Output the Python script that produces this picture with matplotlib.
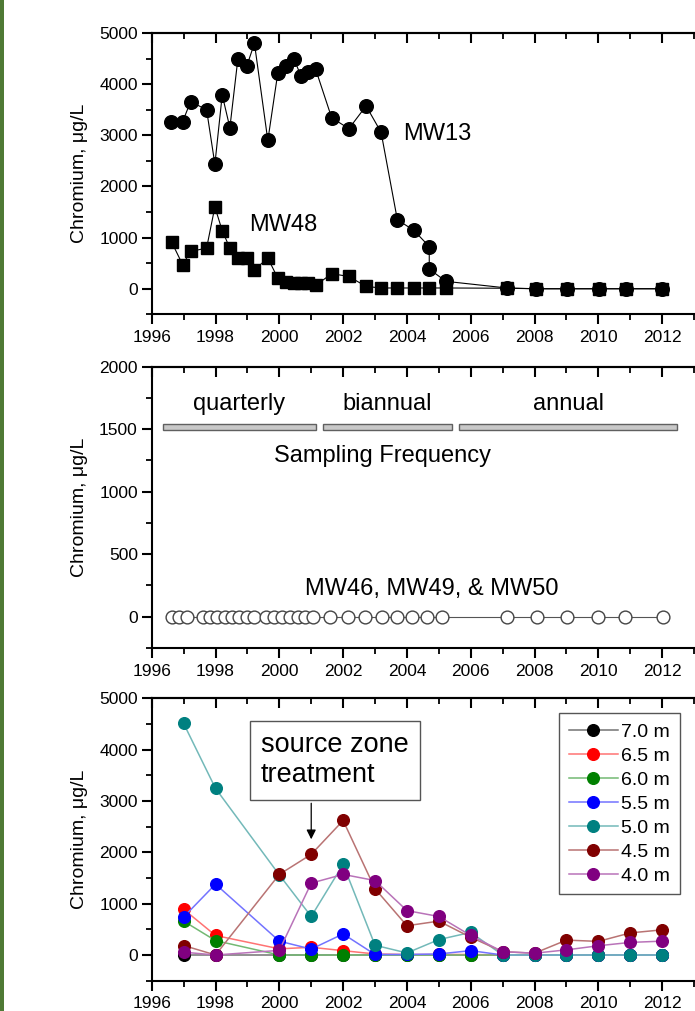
import matplotlib.pyplot as plt
import matplotlib.colors as mcolors
from matplotlib.patches import Rectangle
from matplotlib.ticker import MultipleLocator, FixedLocator

plt.rcParams['font.family'] = ['Liberation Sans', 'DejaVu Sans']

# --- top panel: MW13 and MW48 ---
mw13_year = [1996.6, 1996.97, 1997.22, 1997.72, 1997.98, 1998.21, 1998.45, 1998.70, 1998.98, 1999.22,
             1999.64, 1999.95, 2000.21, 2000.46, 2000.68, 2000.89, 2001.14, 2001.64, 2002.18, 2002.72,
             2003.19, 2003.70, 2004.22, 2004.70, 2004.70, 2005.22, 2007.13, 2008.05, 2009.01, 2010.03,
             2010.86, 2012.01]
mw13_cr = [3270, 3270, 3660, 3500, 2435, 3790, 3150, 4490, 4355, 4800,
           2900, 4210, 4355, 4490, 4160, 4245, 4290, 3345, 3130, 3575,
           3060, 1350, 1140, 825, 385, 145, 15, 0, 0, 0,
           0, 0]

mw48_year = [1996.63, 1996.97, 1997.22, 1997.72, 1997.98, 1998.21, 1998.45, 1998.70, 1998.98, 1999.22,
             1999.64, 1999.95, 2000.21, 2000.46, 2000.68, 2000.89, 2001.14, 2001.64, 2002.18, 2002.72,
             2003.19, 2003.70, 2004.22, 2004.70, 2005.22, 2007.13, 2008.05, 2009.01, 2010.03, 2010.86,
             2012.01]
mw48_cr = [905, 470, 730, 795, 1600, 1135, 795, 600, 600, 370,
           600, 210, 130, 110, 110, 120, 65, 295, 240, 45,
           15, 15, 15, 15, 15, 10, 0, 0, 0, 0,
           0]

# --- middle panel: MW46, MW49, MW50 (all non-detect) ---
mid_year = [1996.63, 1996.87, 1997.12, 1997.60, 1997.83, 1998.06, 1998.29, 1998.52, 1998.75, 1998.98,
            1999.21, 1999.58, 1999.83, 2000.07, 2000.32, 2000.58, 2000.81, 2001.07, 2001.6, 2002.16,
            2002.68, 2003.21, 2003.68, 2004.15, 2004.62, 2005.09, 2007.13, 2008.07, 2009.01, 2010.0,
            2010.84, 2012.02]
mid_cr = [0, 0, 0, 0, 0, 0, 0, 0, 0, 0,
          0, 0, 0, 0, 0, 0, 0, 0, 0, 0,
          0, 0, 0, 0, 0, 0, 0, 0, 0, 0,
          0, 0]

freq_labels = ["quarterly", "biannual", "annual"]
freq_start = [1996.36, 2001.36, 2005.64]
freq_end = [2001.14, 2005.40, 2012.46]

# --- bottom panel: depth profile ---
depth_year = [1997, 1998, 2000, 2001, 2002, 2003, 2004, 2005, 2006, 2007, 2008, 2009, 2010, 2011, 2012]
depth_labels = ["7.0 m", "6.5 m", "6.0 m", "5.5 m", "5.0 m", "4.5 m", "4.0 m"]
depth_colors = ["#000000", "#ff0000", "#008000", "#0000ff", "#008080", "#800000", "#800080"]
cr_70 = [0, 0, 0, 0, 0, 0, 0, 0, 0, 0, 0, 0, 0, 0, 0]
cr_65 = [890, 380, 120, 150, 85, 20, 10, 10, 10, 0, 0, 0, 0, 0, 0]
cr_60 = [660, 280, 0, 0, 0, 0, 0, 0, 0, 0, 0, 0, 0, 0, 0]
cr_55 = [740, 1380, 270, 115, 410, 10, 10, 20, 85, 0, 0, 0, 0, 0, 0]
cr_50 = [4510, 3245, 1560, 750, 1765, 190, 40, 300, 440, 0, 0, 0, 0, 0, 0]
cr_45 = [185, 0, 1570, 1960, 2620, 1290, 570, 660, 345, 65, 35, 290, 265, 430, 490]
cr_40 = [55, 0, 90, 1400, 1570, 1450, 865, 750, 380, 65, 35, 100, 180, 245, 270]
depth_values = [cr_70, cr_65, cr_60, cr_55, cr_50, cr_45, cr_40]

year_ticks = [1996, 1998, 2000, 2002, 2004, 2006, 2008, 2010, 2012]

YLABEL = "Chromium, μg/L"
TICK_FS = 12.5


def lighten(c, f=0.45):
    r, g, b = mcolors.to_rgb(c)
    return (r + (1 - r) * f, g + (1 - g) * f, b + (1 - b) * f)


def style_axes(ax, ymin, ymax, ymajor, yminor):
    ax.set_xlim(1996, 2014)
    ax.set_ylim(ymin, ymax)
    ax.xaxis.set_major_locator(FixedLocator(year_ticks))
    ax.xaxis.set_minor_locator(MultipleLocator(1))
    ax.yaxis.set_major_locator(MultipleLocator(ymajor))
    ax.yaxis.set_minor_locator(MultipleLocator(yminor))
    for s in ax.spines.values():
        s.set_linewidth(1.5)
    ax.tick_params(axis='both', which='both', direction='out', labelsize=TICK_FS,
                   top=False, right=False, width=1.5)
    ax.tick_params(axis='both', which='major', length=7)
    ax.tick_params(axis='both', which='minor', length=4.5, width=1.3)
    ax.tick_params(axis='y', pad=3)
    ax.tick_params(axis='x', pad=4)
    # inward ticks along the top spine
    sec = ax.secondary_xaxis('top')
    sec.xaxis.set_major_locator(FixedLocator(year_ticks))
    sec.xaxis.set_minor_locator(MultipleLocator(1))
    sec.tick_params(axis='x', which='both', direction='in', labeltop=False, width=1.5)
    sec.tick_params(axis='x', which='major', length=7)
    sec.tick_params(axis='x', which='minor', length=4.5, width=1.3)
    sec.spines['top'].set_linewidth(1.5)
    ax.set_ylabel(YLABEL, fontsize=14)
    ax.yaxis.set_label_coords(-0.111, 0.5)


fig = plt.figure(figsize=(6.95, 10.11), dpi=100)
fig.patches.append(Rectangle((0, 0), 0.0058, 1, transform=fig.transFigure,
                             facecolor='#4f7a35', edgecolor='none', zorder=-1))

ax1 = fig.add_axes([0.2183, 0.6891, 0.8262, 0.2782])
ax2 = fig.add_axes([0.2183, 0.3588, 0.8262, 0.2785])
ax3 = fig.add_axes([0.2183, 0.0300, 0.8262, 0.2793])

# top
ax1.plot(mw48_year, mw48_cr, '-', color='black', lw=0.8, marker='s', ms=8.5)
ax1.plot(mw13_year, mw13_cr, '-', color='black', lw=0.8, marker='o', ms=9.8)
style_axes(ax1, -500, 5000, 1000, 500)
ax1.text(1999.05, 1120, "MW48", fontsize=17, ha='left', va='baseline')
ax1.text(2003.89, 2910, "MW13", fontsize=17, ha='left', va='baseline')

# middle
ax2.plot(mid_year, mid_cr, '-', color='#555555', lw=0.8, marker='o', ms=9.2,
         mfc='white', mec='#444444', mew=1.0)
ax2.barh([1515] * len(freq_labels),
         [e - s for s, e in zip(freq_start, freq_end)], left=freq_start,
         height=50, color='#c8c8c8', edgecolor='#606060', linewidth=1.0)
for lab, s, e in zip(freq_labels, freq_start, freq_end):
    ax2.text((s + e) / 2, 1650, lab, fontsize=17, ha='center', va='baseline')
ax2.text(2003.23, 1240, "Sampling Frequency", fontsize=17, ha='center', va='baseline')
ax2.text(2004.78, 174, "MW46, MW49, & MW50", fontsize=17, ha='center', va='baseline')
style_axes(ax2, -253, 2000, 500, 250)

# bottom
for lab, col, vals in zip(depth_labels, depth_colors, depth_values):
    ax3.plot(depth_year, vals, '-', color=lighten(col), lw=1.1, marker='o', ms=8.4,
             mfc=col, mec=col, label=lab)
style_axes(ax3, -500, 5000, 1000, 500)
ax3.text(2001.74, 3795, "source zone\ntreatment", fontsize=19.5, ha='center', va='center',
         multialignment='left',
         bbox=dict(boxstyle='square,pad=0.42', facecolor='white', edgecolor='#555555', lw=1.0))
ax3.annotate('', xy=(2001, 2200), xytext=(2001, 3010),
             arrowprops=dict(arrowstyle='-|>', color='black', lw=0.9, mutation_scale=14))
leg = ax3.legend(loc='upper left', bbox_to_anchor=(0.7096, 0.947), fontsize=14,
                 frameon=True, fancybox=False, framealpha=1, edgecolor='#555555',
                 borderaxespad=0, borderpad=0.5, labelspacing=0.33,
                 handlelength=2.5, handletextpad=0.2)
leg.get_frame().set_linewidth(1.0)

fig.savefig("out.png", dpi=100)
